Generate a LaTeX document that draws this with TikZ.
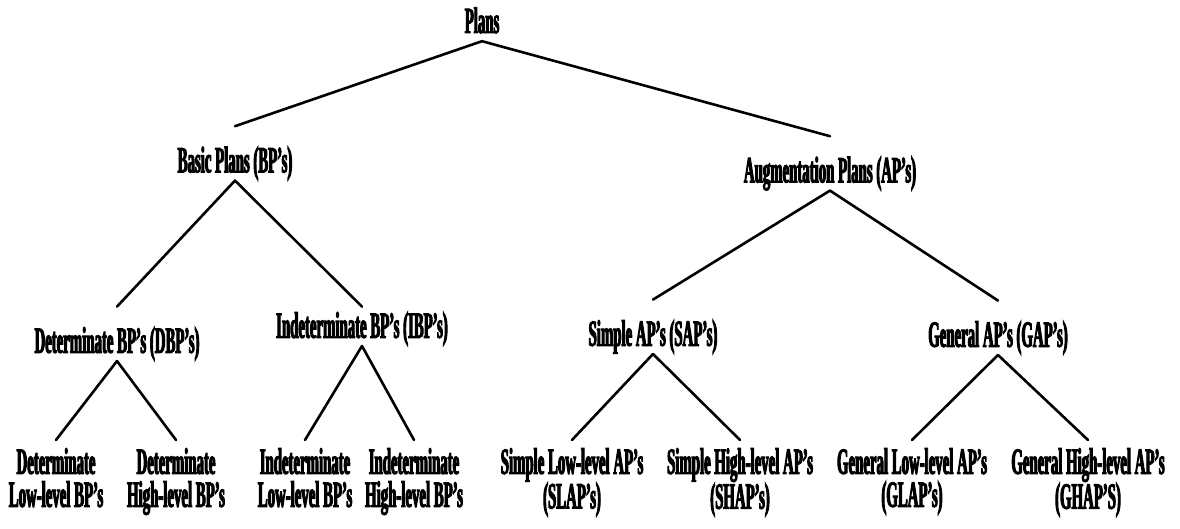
\documentclass[tikz,border=0pt]{standalone}
\usepackage{fontspec}
\usepackage{tikz}
\usetikzlibrary{positioning}
\newfontfamily\squashfont[FakeStretch=0.40,FakeBold=2.6]{Liberation Serif}

\begin{document}
\begin{tikzpicture}[
      x=1pt, y=-1pt,
      lbl/.style={font=\squashfont\bfseries\fontsize{37}{33}\selectfont, inner sep=0pt, text depth=8pt},
      mid/.style={lbl, text height=46pt},
      leaf/.style={lbl, align=center, inner ysep=8pt, text depth=0pt, anchor=north},
      edge/.style={line width=2.6pt, line cap=round}
    ]
      \useasboundingbox (0,0) rectangle (1180,529);

      % Root
      \node[lbl, anchor=base] (plans) at (482,33) {Plans};

      % Second level: basic and augmentation plans
      \node[mid, below=85pt of plans.south, xshift=-247pt] (bp) {Basic Plans (BP’s)};
      \node[mid, below=95pt of plans.south, xshift=348pt] (ap) {Augmentation Plans (AP’s)};

      % Third level
      \node[mid, below=126pt of bp.south, xshift=-118pt] (dbp) {Determinate BP’s (DBP’s)};
      \node[mid, text height=31pt, below=126pt of bp.south, xshift=127pt] (ibp) {Indeterminate BP’s (IBP’s)};
      \node[mid, below=109pt of ap.south, xshift=-177pt] (sap) {Simple AP’s (SAP’s)};
      \node[mid, below=110pt of ap.south, xshift=168pt] (gap) {General AP’s (GAP’s)};

      % Leaves
      \node[leaf, below=79pt of dbp.south, xshift=-61pt] (dlow) {Determinate\\Low-level BP’s};
      \node[leaf, below=79pt of dbp.south, xshift=59pt] (dhigh) {Determinate\\High-level BP’s};
      \node[leaf, below=94pt of ibp.south, xshift=-57pt] (ilow) {Indeterminate\\Low-level BP’s};
      \node[leaf, below=94pt of ibp.south, xshift=52pt] (ihigh) {Indeterminate\\High-level BP’s};
      \node[leaf, below=86pt of sap.south, xshift=-81pt] (slow) {Simple Low-level AP’s\\(SLAP’s)};
      \node[leaf, below=86pt of sap.south, xshift=87pt] (shigh) {Simple High-level AP’s\\(SHAP’s)};
      \node[leaf, below=85pt of gap.south, xshift=-86pt] (glow) {General Low-level AP’s\\(GLAP’s)};
      \node[leaf, below=85pt of gap.south, xshift=90pt] (ghigh) {General High-level AP’s\\(GHAP’S)};

      % Branches
      \draw[edge] (plans.south) -- (bp.north);
      \draw[edge] (plans.south) -- (ap.north);
      \draw[edge] (bp.south) -- (dbp.north);
      \draw[edge] (bp.south) -- (ibp.north);
      \draw[edge] (ap.south) -- (sap.north);
      \draw[edge] (ap.south) -- (gap.north);
      \draw[edge] (dbp.south) -- (dlow.north);
      \draw[edge] (dbp.south) -- (dhigh.north);
      \draw[edge] (ibp.south) -- (ilow.north);
      \draw[edge] (ibp.south) -- (ihigh.north);
      \draw[edge] (sap.south) -- (slow.north);
      \draw[edge] (sap.south) -- (shigh.north);
      \draw[edge] (gap.south) -- (glow.north);
      \draw[edge] (gap.south) -- (ghigh.north);

    \end{tikzpicture}
\end{document}
